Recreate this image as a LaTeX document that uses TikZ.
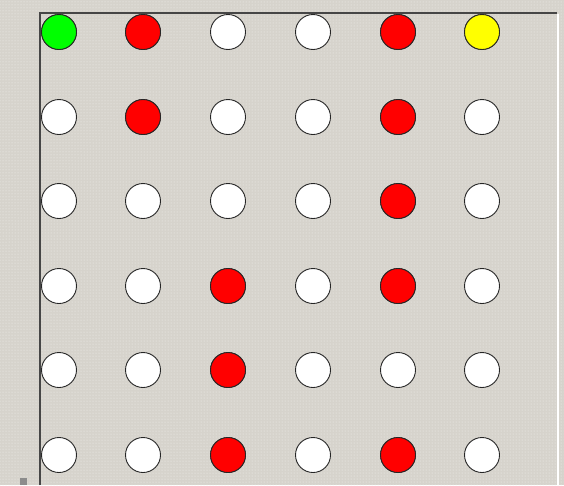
\documentclass[tikz,border=0pt]{standalone}
\usetikzlibrary{patterns}
\definecolor{bg}{RGB}{214,211,204}
\definecolor{frame}{RGB}{70,70,70}
\definecolor{redd}{RGB}{255,0,0}
\definecolor{greenn}{RGB}{0,255,0}
\definecolor{yelloww}{RGB}{255,255,0}
\begin{document}
\begin{tikzpicture}[x=1pt,y=-1pt,
  dot/.style={circle,draw=black!85,line width=0.9pt,minimum size=35pt,inner sep=0pt,fill=white},
  reddot/.style={dot,fill=redd},
  greendot/.style={dot,fill=greenn},
  yellowdot/.style={dot,fill=yelloww}]
\useasboundingbox (0,0) rectangle (564,485);
\fill[bg] (0,0) rectangle (564,485);
\fill[pattern=dots,pattern color=white!70!bg] (0,0) rectangle (564,485);
\draw[white,line width=1.2pt] (558,14) -- (558,485);
\draw[frame,line width=1.8pt] (40,485) -- (40,13) -- (557,13);
\fill[black!45] (20,478) rectangle (27,485);
\foreach \r/\y in {1/32,2/117,3/201,4/286,5/370,6/455}{
  \foreach \c/\x in {1/59,2/143,3/228,4/313,5/398,6/482}{
    \node[dot] (c\r\c) at (\x,\y) {};
  }
}
\node[greendot] at (c11) {};
\node[yellowdot] at (c16) {};
\foreach \n in {c12,c15,c22,c25,c35,c43,c45,c53,c63,c65}{
  \node[reddot] at (\n) {};
}
\end{tikzpicture}
\end{document}
